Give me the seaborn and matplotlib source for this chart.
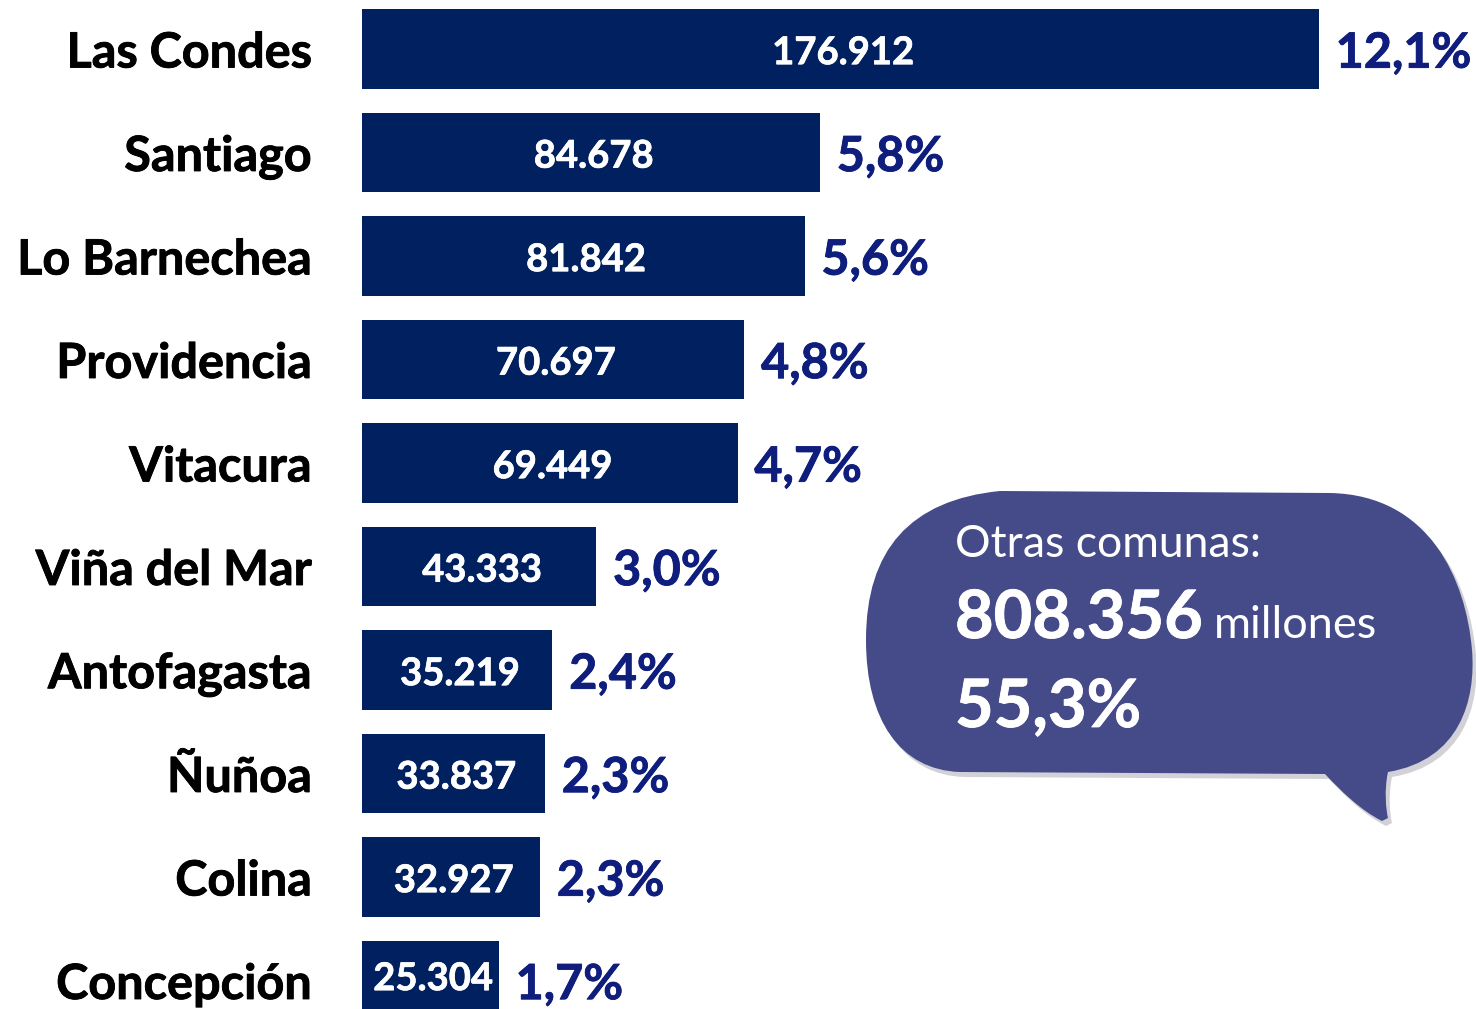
import pandas as pd
import seaborn as sns
import matplotlib.pyplot as plt
import matplotlib.patheffects as pe
from matplotlib.path import Path
from matplotlib.patches import PathPatch

# Datos (millones de pesos) por comuna
comunas = ['Las Condes', 'Santiago', 'Lo Barnechea', 'Providencia', 'Vitacura',
           'Viña del Mar', 'Antofagasta', 'Ñuñoa', 'Colina', 'Concepción']
montos = [176912, 84678, 81842, 70697, 69449, 43333, 35219, 33837, 32927, 25304]
porcentajes = [12.1, 5.8, 5.6, 4.8, 4.7, 3.0, 2.4, 2.3, 2.3, 1.7]
otras_monto = 808356
otras_pct = 55.3

df = pd.DataFrame({'comuna': comunas, 'monto': montos, 'pct': porcentajes})

BAR = '#002060'
PCT = '#0f1e7d'
BUBBLE = '#454a89'


def thick(color, w=0.6):
    return [pe.withStroke(linewidth=w, foreground=color)]


sns.set_style('white')
plt.rcParams['font.family'] = ['Lato', 'DejaVu Sans']

fig = plt.figure(figsize=(14.76, 10.09), dpi=100)
ax = fig.add_axes([362 / 1476, 0, 1114 / 1476, 1])
sns.barplot(data=df, x='monto', y='comuna', orient='h', color=BAR,
            saturation=1, width=0.765, linewidth=0, ax=ax)

ax.set_xlim(0, 1114 / 0.005409)
ax.set_ylim((1009 - 49) / 103.5, -49 / 103.5)
sns.despine(ax=ax, left=True, bottom=True)
ax.set_xlabel('')
ax.set_ylabel('')
ax.set_xticks([])
ax.tick_params(axis='y', length=0, pad=36, labelsize=35, labelcolor='black')
for t in ax.get_yticklabels():
    t.set_fontweight('bold')
    t.set_path_effects(thick('black'))

bars = ax.containers[0]
vals = ax.bar_label(bars, labels=[f'{v:,}'.replace(',', '.') for v in montos],
                    label_type='center', color='white', fontsize=27.5, fontweight='bold')
pcts = ax.bar_label(bars, labels=[f'{p:.1f}%'.replace('.', ',') for p in porcentajes],
                    padding=12, color=PCT, fontsize=35, fontweight='bold')
for t in vals:
    t.set_path_effects(thick('white', 0.5))
    t.xyann = (2, -3)
for t in pcts:
    t.set_path_effects(thick(PCT))
    t.xyann = (12, -3)

# Globo "Otras comunas"
ov = fig.add_axes([0, 0, 1, 1])
ov.set_xlim(0, 1476)
ov.set_ylim(1009, 0)
ov.axis('off')
ov.patch.set_alpha(0)

verts = [(1000, 491), (1330, 493),
         (1430, 495), (1466, 580), (1472, 650),
         (1476, 700), (1460, 760), (1388, 772),
         (1384, 790), (1386, 810), (1388, 818),
         (1382, 821),
         (1360, 810), (1340, 790), (1325, 774),
         (960, 772),
         (900, 770), (866, 720), (866, 640),
         (866, 550), (910, 500), (1000, 491),
         (1000, 491)]
codes = [Path.MOVETO, Path.LINETO,
         Path.CURVE4, Path.CURVE4, Path.CURVE4,
         Path.CURVE4, Path.CURVE4, Path.CURVE4,
         Path.CURVE4, Path.CURVE4, Path.CURVE4,
         Path.LINETO,
         Path.CURVE4, Path.CURVE4, Path.CURVE4,
         Path.LINETO,
         Path.CURVE4, Path.CURVE4, Path.CURVE4,
         Path.CURVE4, Path.CURVE4, Path.CURVE4,
         Path.CLOSEPOLY]
shadow = Path([(x + 4, y + 5) for x, y in verts], codes)
ov.add_patch(PathPatch(shadow, facecolor='#9a9aa8', edgecolor='none', alpha=0.45))
ov.add_patch(PathPatch(Path(verts, codes), facecolor=BUBBLE, edgecolor='none'))

ov.text(955, 557, 'Otras comunas:', color='white', fontsize=32, va='baseline')
ov.text(955, 638, f'{otras_monto:,}'.replace(',', '.'), color='white', fontsize=48,
        fontweight='bold', va='baseline', path_effects=thick('white'))
ov.text(1214, 638, 'millones', color='white', fontsize=32.5, va='baseline')
ov.text(955, 727, f'{otras_pct:.1f}%'.replace('.', ','), color='white', fontsize=48,
        fontweight='bold', va='baseline', path_effects=thick('white'))

fig.savefig('out.png', dpi=100)
